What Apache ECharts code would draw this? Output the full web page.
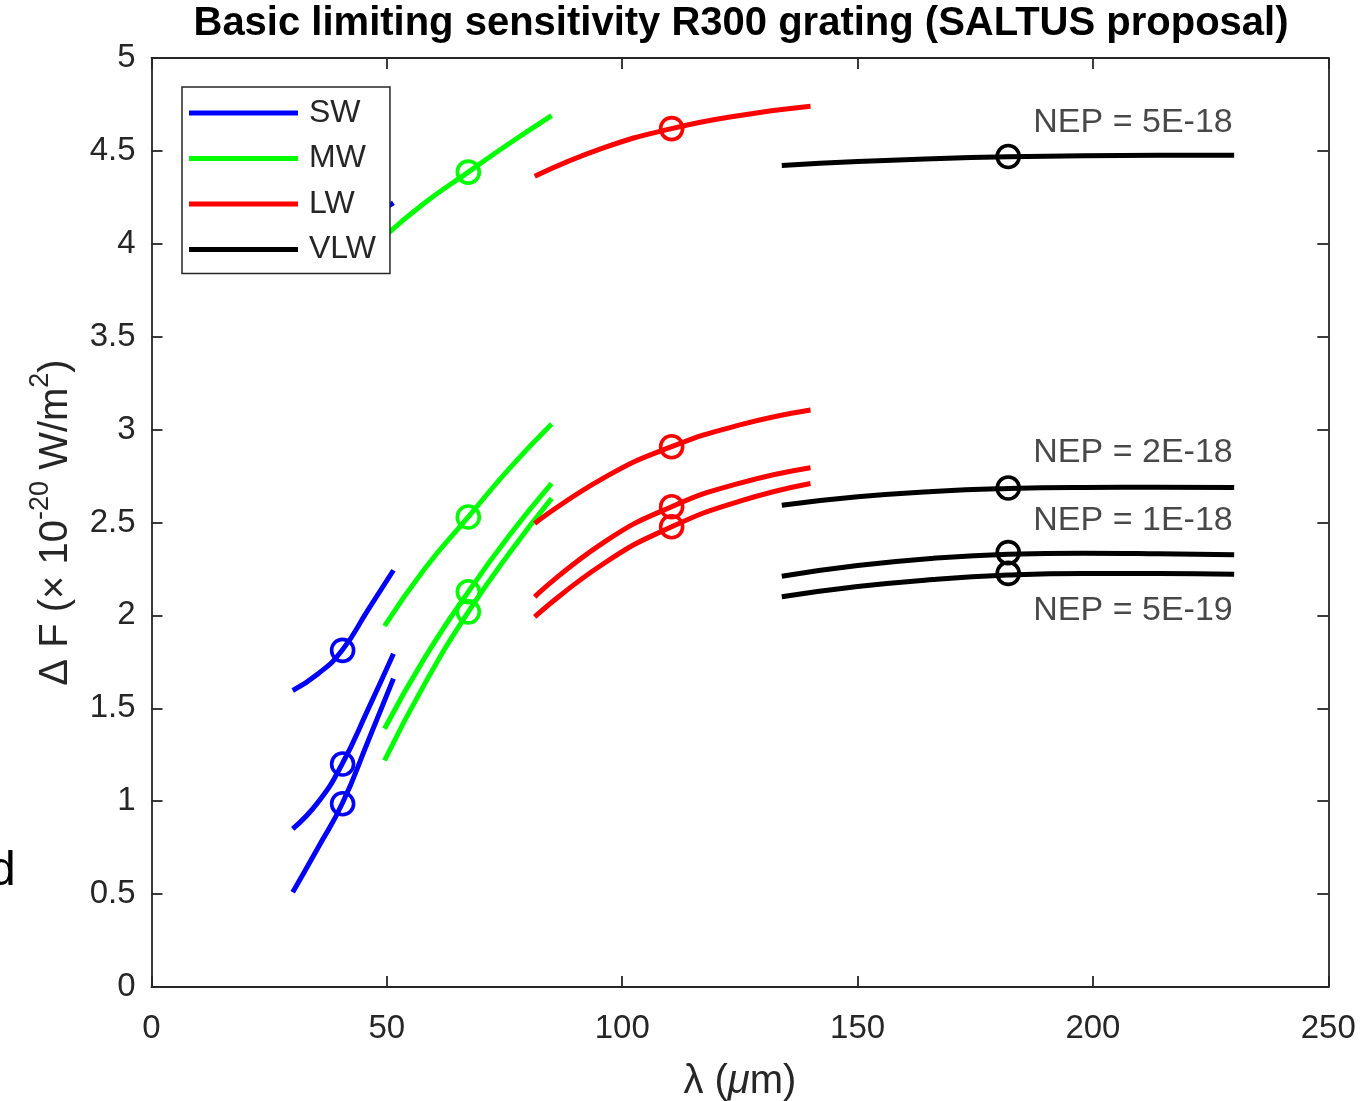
<!DOCTYPE html>
<html><head><meta charset="utf-8">
<script src="https://cdn.jsdelivr.net/npm/echarts@6/dist/echarts.min.js"></script>
<style>html,body{margin:0;padding:0;background:#fff}#c{width:1368px;height:1101px}</style>
</head><body><div id="c"></div>
<script>
// ---- data ----
const bands = ['SW', 'MW', 'LW', 'VLW'];
const nepLabels = ['NEP = 5E-18', 'NEP = 2E-18', 'NEP = 1E-18', 'NEP = 5E-19'];

// wavelength samples per band (µm)
const swLambda  = [30, 35.4, 40.5, 46, 51.4];
const mwLambda  = [49.5, 58, 67.3, 76, 85];
const lwLambda  = [81.4, 96, 110.5, 125, 140];
const vlwLambda = [133.9, 150, 166, 182, 198, 214, 230];

// ΔF values, one row per NEP level (5E-18, 2E-18, 1E-18, 5E-19)
const swValues = [
  [3.95, 4.00, 4.07, 4.14, 4.22],
  [1.596, 1.686, 1.812, 2.03, 2.243],
  [0.851, 0.995, 1.20, 1.494, 1.794],
  [0.51, 0.751, 0.986, 1.323, 1.66]
];
const mwValues = [
  [4.04, 4.22, 4.386, 4.54, 4.69],
  [1.943, 2.25, 2.53, 2.79, 3.03],
  [1.39, 1.77, 2.127, 2.43, 2.71],
  [1.219, 1.63, 2.019, 2.335, 2.63]
];
const lwValues = [
  [4.363, 4.516, 4.62, 4.691, 4.74],
  [2.495, 2.739, 2.908, 3.025, 3.105],
  [2.10, 2.392, 2.585, 2.712, 2.795],
  [1.992, 2.278, 2.477, 2.615, 2.71]
];
const vlwValues = [
  [4.422, 4.443, 4.458, 4.468, 4.474, 4.476, 4.476],
  [2.593, 2.638, 2.667, 2.683, 2.689, 2.690, 2.688],
  [2.211, 2.268, 2.307, 2.329, 2.335, 2.332, 2.326],
  [2.100, 2.155, 2.193, 2.217, 2.226, 2.226, 2.222]
];

// circle markers: one wavelength per band, one value per NEP level
const markerLambda = [40.6, 67.3, 110.5, 182];
const swMarkers  = [4.07, 1.812, 1.20, 0.986];
const mwMarkers  = [4.386, 2.53, 2.127, 2.019];
const lwMarkers  = [4.62, 2.908, 2.585, 2.477];
const vlwMarkers = [4.47, 2.686, 2.338, 2.226];

// NEP text anchors (data coordinates, right-aligned)
const nepLabelX = 229.7;
const nepLabelY = [4.654, 2.875, 2.51, 2.025];

// axis ticks
const xTicks = [0, 50, 100, 150, 200, 250];
const yTicks = [0, 0.5, 1, 1.5, 2, 2.5, 3, 3.5, 4, 4.5, 5];

// ---- chart ----
const FONT = '"Liberation Sans", Arial, Helvetica, sans-serif';
const AX = '#262626';
const colors = { SW: '#0000ff', MW: '#00ff00', LW: '#ff0000', VLW: '#000000' };
const lambdas = [swLambda, mwLambda, lwLambda, vlwLambda];
const values = [swValues, mwValues, lwValues, vlwValues];
const markers = [swMarkers, mwMarkers, lwMarkers, vlwMarkers];

const series = [];
bands.forEach((b, bi) => {
  values[bi].forEach((row) => {
    series.push({
      type: 'line', name: b, smooth: true, showSymbol: false, symbol: 'none',
      data: lambdas[bi].map((x, k) => [x, row[k]]),
      lineStyle: { color: colors[b], width: 5 },
      itemStyle: { color: colors[b] },
      z: 2, silent: true
    });
  });
});
bands.forEach((b, bi) => {
  series.push({
    type: 'scatter', name: b + ' markers', symbol: 'circle', symbolSize: 22,
    data: markers[bi].map(v => [markerLambda[bi], v]),
    itemStyle: { color: 'rgba(0,0,0,0)', borderColor: colors[b], borderWidth: 3.6, opacity: 1 },
    z: 3, silent: true
  });
});
series.push({
  type: 'scatter', name: 'nep', symbolSize: 0.1,
  data: nepLabels.map((t, i) => ({ value: [nepLabelX, nepLabelY[i]], name: t })),
  itemStyle: { color: 'rgba(0,0,0,0)' },
  label: { show: true, position: 'left', distance: 0, formatter: p => p.name,
           fontSize: 34, fontFamily: FONT, color: '#1a1a1a' },
  z: 4, silent: true
});

const tickStyle = { show: true, inside: true, length: 11, lineStyle: { color: AX, width: 1.8 } };
const lineStyleAx = { show: true, onZero: false, lineStyle: { color: AX, width: 1.8 } };

const option = {
  animation: false,
  backgroundColor: '#fff',
  title: {
    text: 'Basic limiting sensitivity R300 grating (SALTUS proposal)',
    left: 741, top: 4, textAlign: 'center', padding: 0,
    textStyle: { fontSize: 40, fontWeight: 'bold', fontFamily: FONT, color: '#000' }
  },
  legend: {
    data: bands, orient: 'vertical', left: 182, top: 87,
    icon: 'rect', itemWidth: 109, itemHeight: 5, itemGap: 11.5,
    padding: [9, 14, 7, 7], backgroundColor: '#fff',
    borderColor: AX, borderWidth: 1.5, selectedMode: false,
    textStyle: { fontSize: 32, fontFamily: FONT, color: AX, lineHeight: 34, padding: [0, 0, 0, 6] }
  },
  grid: { left: 151.5, right: 39.7, top: 58, bottom: 114, containLabel: false, outerBoundsMode: 'none' },
  xAxis: [{
    type: 'value', min: xTicks[0], max: xTicks[xTicks.length - 1], interval: xTicks[1] - xTicks[0],
    axisLine: lineStyleAx, axisTick: tickStyle, splitLine: { show: false },
    axisLabel: { fontSize: 33, fontFamily: FONT, color: AX, margin: 25 },
    name: '{t|λ (}{mu|μ}{t|m)}', nameLocation: 'middle', nameGap: 75,
    nameTextStyle: { rich: {
      t: { fontSize: 40, fontFamily: FONT, color: AX },
      mu: { fontSize: 40, fontFamily: FONT, color: AX, fontStyle: 'italic' } } }
  }, {
    type: 'value', position: 'top', min: xTicks[0], max: xTicks[xTicks.length - 1], interval: xTicks[1] - xTicks[0],
    axisLine: lineStyleAx, axisTick: tickStyle, axisLabel: { show: false }, splitLine: { show: false }
  }],
  yAxis: [{
    type: 'value', min: yTicks[0], max: yTicks[yTicks.length - 1], interval: yTicks[1] - yTicks[0],
    axisLine: lineStyleAx, axisTick: tickStyle, splitLine: { show: false },
    axisLabel: { fontSize: 33, fontFamily: FONT, color: AX, margin: 16 },
    name: '{t|Δ F (× 10}{s|-20}{t| W/m}{s|2}{t|)}', nameLocation: 'middle', nameGap: 76, nameRotate: 90,
    nameTextStyle: { rich: {
      t: { fontSize: 40, fontFamily: FONT, color: AX, lineHeight: 48, verticalAlign: 'bottom' },
      s: { fontSize: 27, fontFamily: FONT, color: AX, lineHeight: 27, verticalAlign: 'top' } } }
  }, {
    type: 'value', position: 'right', min: yTicks[0], max: yTicks[yTicks.length - 1], interval: yTicks[1] - yTicks[0],
    axisLine: lineStyleAx, axisTick: tickStyle, axisLabel: { show: false }, splitLine: { show: false }
  }],
  graphic: [{
    type: 'text', left: -11, top: 848, silent: true,
    style: { text: 'd', fontSize: 48, fontFamily: FONT, fill: '#000' }
  }],
  series: series
};

const chart = echarts.init(document.getElementById('c'), null, { renderer: 'canvas' });
chart.setOption(option);
</script>
</body></html>
